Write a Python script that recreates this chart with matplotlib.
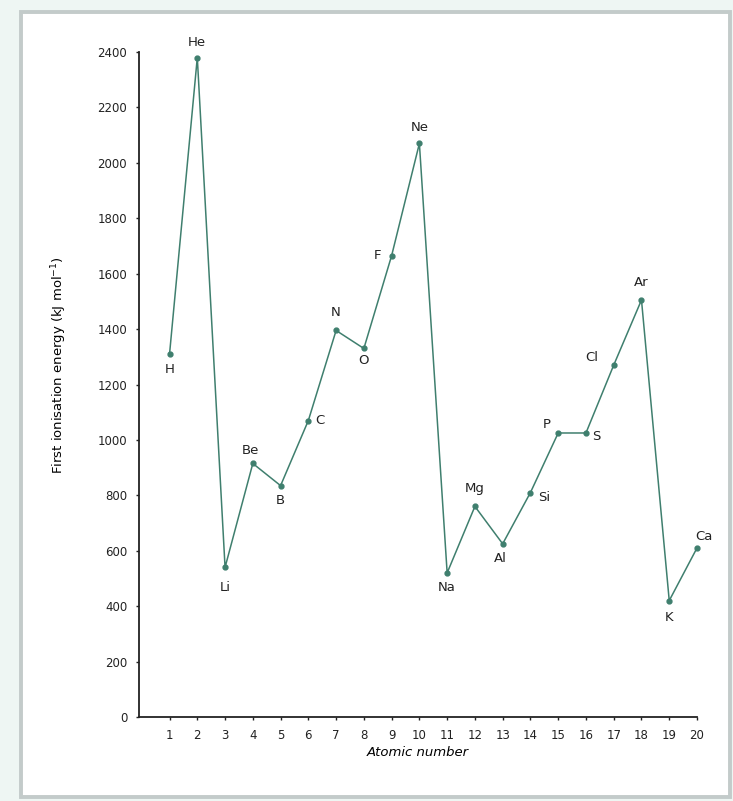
import matplotlib
matplotlib.use('Agg')
import matplotlib.pyplot as plt
from matplotlib.patches import Rectangle

# first ionisation energies
atomic_number = list(range(1, 21))
symbols = ['H', 'He', 'Li', 'Be', 'B', 'C', 'N', 'O', 'F', 'Ne',
           'Na', 'Mg', 'Al', 'Si', 'P', 'S', 'Cl', 'Ar', 'K', 'Ca']
energy = [1310, 2380, 540, 915, 835, 1070, 1395, 1330, 1665, 2070,
          520, 760, 625, 810, 1025, 1025, 1270, 1505, 420, 610]
yticks = list(range(0, 2401, 200))

# where each symbol sits relative to its point (pixels)
offs = {'H': (0, -15), 'He': (0, 15), 'Li': (0, -20), 'Be': (-2, 13),
        'B': (0, -15), 'C': (12, 0), 'N': (0, 18), 'O': (0, -12),
        'F': (-14, 0), 'Ne': (0, 16), 'Na': (0, -15), 'Mg': (0, 18),
        'Al': (-2, -15), 'Si': (14, -5), 'P': (-11, 8), 'S': (10, -4),
        'Cl': (-22, 8), 'Ar': (0, 17), 'K': (0, -17), 'Ca': (7, 11)}

fig = plt.figure(figsize=(7.33, 8.01), dpi=100)
fig.patch.set_facecolor('#eef6f3')
# white card with grey edge, kept behind the axes
fig.patches.append(Rectangle((21/733, 1-797/801), (730-21)/733, (797-12)/801,
                             transform=fig.transFigure, facecolor='white',
                             edgecolor='#c3cbca', linewidth=2.8, zorder=-5))

ax = fig.add_axes([139/733, 1-717/801, (697-139)/733, (717-52)/801])
ax.set_facecolor('none')
col = '#3f7f6e'
ax.plot(atomic_number, energy, color=col, lw=1.1, marker='o', ms=3.5,
        mfc=col, mec=col, clip_on=False)

for x, y, s in zip(atomic_number, energy, symbols):
    dx, dy = offs[s]
    ax.annotate(s, (x, y), xytext=(dx, dy), textcoords='offset pixels',
                ha='center', va='center', fontsize=9.5, color='#222222')

ax.set_xlim(-0.1, 20)
ax.set_ylim(0, 2400)
ax.set_xticks(atomic_number)
ax.set_yticks(yticks)
ax.tick_params(labelsize=8.5, length=2.5, width=1, colors='#222222',
               pad=6)
for s in ['top', 'right']:
    ax.spines[s].set_visible(False)
for s in ['left', 'bottom']:
    ax.spines[s].set_linewidth(1.3)
    ax.spines[s].set_color('#222222')

ax.set_xlabel('Atomic number', fontsize=9.5, style='italic', labelpad=3)
ax.set_ylabel('First ionisation energy (kJ mol$^{-1}$)', fontsize=9.5)
ax.yaxis.set_label_coords(-0.125, 0.53)

plt.savefig('out.png', dpi=100, facecolor=fig.get_facecolor())
